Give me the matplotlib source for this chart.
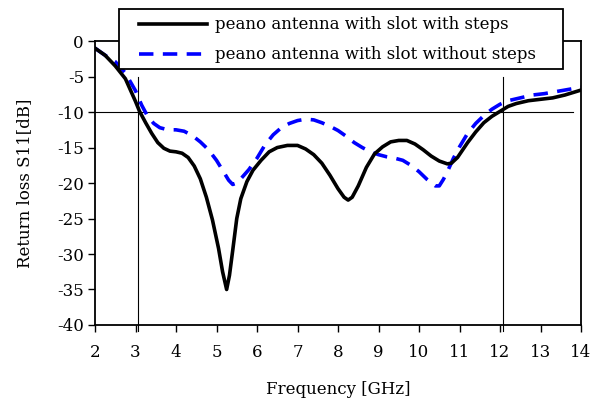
import matplotlib
matplotlib.use("Agg")
import matplotlib.pyplot as plt
from matplotlib.patches import Rectangle

plt.rcParams['font.family'] = ['DejaVu Serif']
plt.rcParams['axes.unicode_minus'] = False

freq_steps = [2.0, 2.25, 2.5, 2.75, 3.0, 3.1, 3.25, 3.4, 3.55, 3.7, 3.85, 4.0, 4.15, 4.3, 4.45,
              4.6, 4.75, 4.9, 5.05, 5.15, 5.25, 5.32, 5.4, 5.5, 5.6, 5.75, 5.9, 6.1, 6.3, 6.5,
              6.75, 7.0, 7.2, 7.4, 7.6, 7.8, 8.0, 8.15, 8.25, 8.35, 8.5, 8.7, 8.9, 9.1, 9.3,
              9.5, 9.7, 9.9, 10.1, 10.3, 10.5, 10.7, 10.8, 10.95, 11.2, 11.4, 11.6, 11.8, 12.0,
              12.2, 12.4, 12.7, 13.0, 13.3, 13.6, 14.0]
s11_steps = [-1.0, -2.0, -3.5, -5.3, -8.5, -9.9, -11.5, -13.0, -14.3, -15.1, -15.5, -15.6, -15.8,
             -16.4, -17.6, -19.4, -22.0, -25.2, -29.2, -32.5, -35.0, -33.0, -29.5, -25.0, -22.2,
             -19.8, -18.2, -16.8, -15.6, -15.0, -14.7, -14.7, -15.2, -16.0, -17.2, -18.9, -20.8,
             -22.0, -22.4, -22.0, -20.4, -17.8, -15.9, -14.9, -14.2, -14.0, -14.0, -14.5, -15.3,
             -16.2, -16.9, -17.3, -17.2, -16.4, -14.3, -12.8, -11.5, -10.6, -9.9, -9.2, -8.8,
             -8.4, -8.2, -8.0, -7.6, -6.9]

freq_nosteps = [2.0, 2.25, 2.5, 2.75, 3.0, 3.15, 3.3, 3.45, 3.6, 3.8, 4.0, 4.2, 4.4, 4.6, 4.8,
                5.0, 5.15, 5.3, 5.4, 5.5, 5.6, 5.8, 6.0, 6.2, 6.4, 6.6, 6.8, 7.0, 7.2, 7.4, 7.6,
                7.8, 8.0, 8.2, 8.4, 8.6, 8.8, 9.0, 9.2, 9.4, 9.6, 9.8, 10.0, 10.2, 10.4, 10.5,
                10.6, 10.7, 10.85, 11.0, 11.2, 11.4, 11.6, 11.8, 12.0, 12.2, 12.5, 12.8, 13.1,
                13.5, 14.0]
s11_nosteps = [-1.0, -2.0, -2.9, -4.5, -7.0, -9.0, -10.6, -11.6, -12.2, -12.5, -12.5, -12.7,
               -13.3, -14.2, -15.3, -16.8, -18.2, -19.6, -20.2, -20.0, -19.4, -18.1, -16.5,
               -14.6, -13.2, -12.2, -11.6, -11.2, -11.0, -11.1, -11.5, -12.0, -12.6, -13.4,
               -14.3, -15.0, -15.6, -16.0, -16.3, -16.5, -16.8, -17.5, -18.4, -19.5, -20.4,
               -20.4, -19.5, -18.4, -16.5, -14.9, -13.0, -11.6, -10.5, -9.6, -8.9, -8.4, -8.0,
               -7.6, -7.4, -7.0, -6.5]

series_labels = ["peano antenna with slot with steps", "peano antenna with slot without steps"]
x_ticks = list(range(2, 15))
y_ticks = list(range(-40, 1, 5))
band_edges = [3.07, 12.07]
ref_level = -10

fig = plt.figure(figsize=(5.99, 3.99), dpi=100)
ax = fig.add_axes([0.1586, 0.1855, 0.8114, 0.7115])

for xe in band_edges:
    ax.plot([xe, xe], [-5.1, -40.9], color='black', lw=0.8, clip_on=False, zorder=1)
ax.plot([2, 13.8], [ref_level, ref_level], color='black', lw=0.8, zorder=1)

ax.plot(freq_steps, s11_steps, color='black', lw=2.6, label=series_labels[0], zorder=3)
ax.plot(freq_nosteps, s11_nosteps, color='#0000ff', lw=2.6, dashes=(4.0, 2.6),
        label=series_labels[1], zorder=2)

ax.set_xlim(2, 14)
ax.set_ylim(-40, 0)
ax.set_xticks(x_ticks)
ax.set_yticks(y_ticks)
ax.tick_params(axis='both', direction='out', length=5, width=1, labelsize=12, colors='black')
ax.tick_params(axis='x', pad=9)
ax.tick_params(axis='y', pad=3)
for sp in ax.spines.values():
    sp.set_linewidth(1.3)

ax.set_xlabel("Frequency [GHz]", fontsize=12, labelpad=14)
ax.set_ylabel("Return loss S11[dB]", fontsize=12, labelpad=17)

# legend frame drawn as a box in axes coordinates
frame = Rectangle((0.049, 0.901), 0.914, 0.212, transform=ax.transAxes, facecolor='white',
                  edgecolor='black', lw=1.3, clip_on=False, zorder=4.5)
ax.add_patch(frame)
leg = ax.legend(loc='upper left', bbox_to_anchor=(0.0905, 1.087), fontsize=12, frameon=False,
                handlelength=4.1, handletextpad=0.45, borderaxespad=0, borderpad=0,
                labelspacing=0.78)
leg.set_zorder(5)

fig.savefig("out.png", dpi=100)
